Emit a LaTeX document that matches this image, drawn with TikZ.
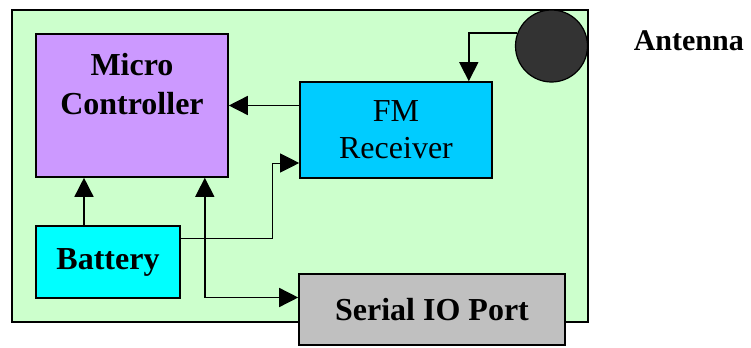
\documentclass[tikz,border=0pt]{standalone}
\usepackage{fontspec}
\setmainfont{Liberation Serif}
\usetikzlibrary{arrows.meta}
\definecolor{boardgreen}{HTML}{CCFFCC}
\definecolor{mcviolet}{HTML}{CC99FF}
\definecolor{fmblue}{HTML}{00CCFF}
\definecolor{batcyan}{HTML}{00FFFF}
\definecolor{portgray}{HTML}{C0C0C0}
\definecolor{antdark}{HTML}{333333}
\begin{document}
\begin{tikzpicture}[x=0.5pt,y=-0.5pt,line width=0.8pt]
			\tikzset{blk/.style={draw,rectangle,inner sep=0pt,align=center,font=\fontsize{16}{18.5}\selectfont},
				arr/.style={line width=0.75pt,-{Triangle[length=9.5pt,width=9.5pt]}},
				arrboth/.style={line width=0.75pt,{Triangle[length=9.5pt,width=9.5pt]}-{Triangle[length=9.5pt,width=9.5pt]}}}
			\useasboundingbox (0,0) rectangle (751,348);
			\draw[fill=boardgreen,line width=1pt] (12,10) rectangle (588,321.5);
			\node[blk,fill=mcviolet,minimum width=96pt,minimum height=71.5pt,
				label={[anchor=north,inner sep=0pt,yshift=-9.5pt,align=center,font=\fontsize{16}{19.5}\selectfont\bfseries]north:Micro\\Controller}] (mc) at (132,105.5) {};
			\node[blk,fill=fmblue,minimum width=96pt,minimum height=48pt] (fm) at (396,130) {FM\\Receiver};
			\node[blk,fill=batcyan,minimum width=72pt,minimum height=36pt,font=\fontsize{16}{19}\selectfont\bfseries] (bat) at (108,262) {Battery};
			\node[blk,fill=portgray,minimum width=133pt,minimum height=35.5pt,font=\fontsize{16}{19}\selectfont\bfseries] (ser) at (432,309.5) {Serial IO Port};
			\node[draw,circle,fill=antdark,minimum size=36pt,inner sep=0pt,line width=0.6pt] (ant) at (551.5,46) {};
			\node[anchor=base west,inner sep=0pt,font=\fontsize{15}{19}\selectfont\bfseries] (antlbl) at (633,50) {Antenna};
			% links
			\draw[arr] (ant.159) -| ([xshift=-12pt]fm.north east);
			\draw[arr] (fm.west |- mc.east) -- (mc.east);
			\draw[arr] ([xshift=-12pt]bat.north) -- ([xshift=-12pt]bat.north |- mc.south);
			\draw[arrboth] ([xshift=-12pt]mc.south east) |- ([yshift=6pt]ser.west);
			\draw[line width=0.5pt,-{Triangle[length=9.5pt,width=9.5pt]}] ([yshift=12pt]bat.east) -| ([xshift=-13.5pt,yshift=-16.5pt]fm.west) -- ([yshift=-16.5pt]fm.west);
		\end{tikzpicture}
\end{document}
